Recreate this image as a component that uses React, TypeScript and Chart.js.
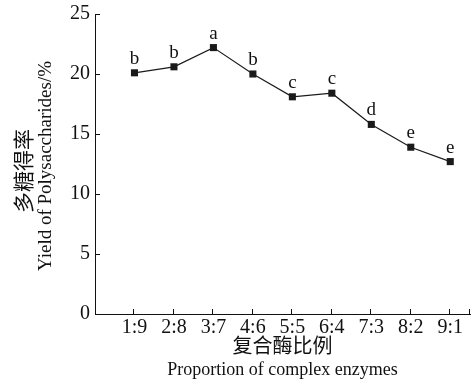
import React, { useEffect, useRef } from "react";
import { Chart, registerables } from "chart.js";

Chart.register(...registerables);

const categories = ["1:9", "2:8", "3:7", "4:6", "5:5", "6:4", "7:3", "8:2", "9:1"];
const yieldValues = [20.1, 20.6, 22.2, 20.0, 18.1, 18.4, 15.8, 13.9, 12.7];
const sigLetters = ["b", "b", "a", "b", "c", "c", "d", "e", "e"];
const yTicks = [0, 5, 10, 15, 20, 25];
const xTitleCn = "复合酶比例";
const xTitleEn = "Proportion of complex enzymes";
const yTitleCn = "多糖得率";
const yTitleEn = "Yield of Polysaccharides/%";

const SERIF = "'Liberation Serif', 'Times New Roman', 'Noto Sans CJK SC', serif";
const CJK = "'Noto Sans CJK SC', 'Liberation Serif', serif";

const decorPlugin = {
  id: "decor",
  afterDraw(chart: any) {
    const ctx = chart.ctx as CanvasRenderingContext2D;
    const xs = chart.scales.x;
    const ys = chart.scales.y;
    const area = chart.chartArea;
    ctx.save();
    ctx.strokeStyle = "#111";
    ctx.lineWidth = 1;
    // inner ticks on y
    yTicks.forEach((v) => {
      const py = Math.round(ys.getPixelForValue(v)) + 0.5;
      ctx.beginPath();
      ctx.moveTo(area.left, py);
      ctx.lineTo(area.left + 5, py);
      ctx.stroke();
    });
    // inner ticks on x
    const xt = categories.map((_, i) => i + 1).concat([xs.max]);
    xt.forEach((v) => {
      const px = Math.round(xs.getPixelForValue(v)) - 0.5;
      ctx.beginPath();
      ctx.moveTo(px, area.bottom);
      ctx.lineTo(px, area.bottom - 5);
      ctx.stroke();
    });
    // significance letters
    ctx.fillStyle = "#111";
    ctx.font = "19px " + SERIF;
    ctx.textAlign = "center";
    ctx.textBaseline = "alphabetic";
    const meta = chart.getDatasetMeta(0);
    meta.data.forEach((pt: any, i: number) => {
      ctx.fillText(sigLetters[i], pt.x, pt.y - 9);
    });
    // x titles
    const cx = (area.left + area.right) / 2;
    ctx.textBaseline = "middle";
    ctx.font = "20px " + CJK;
    ctx.fillText(xTitleCn, cx, 345);
    ctx.font = "18px " + SERIF;
    ctx.fillText(xTitleEn, cx, 370);
    // y titles
    ctx.save();
    ctx.translate(23, 171);
    ctx.rotate(-Math.PI / 2);
    ctx.font = "21px " + CJK;
    ctx.fillText(yTitleCn, 0, 0);
    ctx.restore();
    ctx.save();
    ctx.translate(46, 166);
    ctx.rotate(-Math.PI / 2);
    ctx.font = "19px " + SERIF;
    ctx.fillText(yTitleEn, 0, 0);
    ctx.restore();
    ctx.restore();
  },
};

export default function App() {
  const ref = useRef<HTMLCanvasElement | null>(null);
  useEffect(() => {
    if (!ref.current) return;
    const chart = new Chart(ref.current, {
      type: "line",
      data: {
        datasets: [
          {
            data: yieldValues.map((v, i) => ({ x: i + 1, y: v })),
            borderColor: "#1a1a1a",
            borderWidth: 1.2,
            backgroundColor: "#1a1a1a",
            pointStyle: "rect",
            pointRadius: 5,
            pointBackgroundColor: "#1a1a1a",
            pointBorderWidth: 0,
            tension: 0,
          },
        ],
      },
      options: {
        animation: false,
        responsive: false,
        maintainAspectRatio: false,
        layout: { padding: { left: 0, top: 14, right: 3, bottom: 0 } },
        plugins: { legend: { display: false }, tooltip: { enabled: false } },
        scales: {
          x: {
            type: "linear",
            min: 0,
            max: 9.5,
            afterFit: (s: any) => {
              s.height = 73;
              s.paddingLeft = 0;
              s.paddingRight = 0;
            },
            afterBuildTicks: (s: any) => {
              s.ticks = categories.map((_, i) => ({ value: i + 1 }));
            },
            ticks: {
              autoSkip: false,
              maxRotation: 0,
              padding: 2,
              color: "#111",
              font: { family: SERIF, size: 20 },
              callback: (v: any) => {
                const i = Math.round(Number(v)) - 1;
                return categories[i] ?? "";
              },
            },
            grid: { display: true, drawOnChartArea: false, drawTicks: false },
            border: { display: true, color: "#111", width: 1 },
          },
          y: {
            min: 0,
            max: 25,
            afterFit: (s: any) => {
              s.width = 95;
              s.paddingTop = 0;
              s.paddingBottom = 0;
            },
            afterBuildTicks: (s: any) => {
              s.ticks = yTicks.map((v) => ({ value: v }));
            },
            ticks: {
              padding: 5,
              color: "#111",
              font: { family: SERIF, size: 20 },
            },
            grid: { display: true, drawOnChartArea: false, drawTicks: false },
            border: { display: true, color: "#111", width: 1 },
          },
        },
      },
      plugins: [decorPlugin],
    });
    return () => chart.destroy();
  }, []);
  return (
    <div style={{ position: "fixed", left: 0, top: 0, width: 475, height: 387, background: "#fff" }}>
      <canvas ref={ref} width={475} height={387} style={{ display: "block" }} />
    </div>
  );
}
